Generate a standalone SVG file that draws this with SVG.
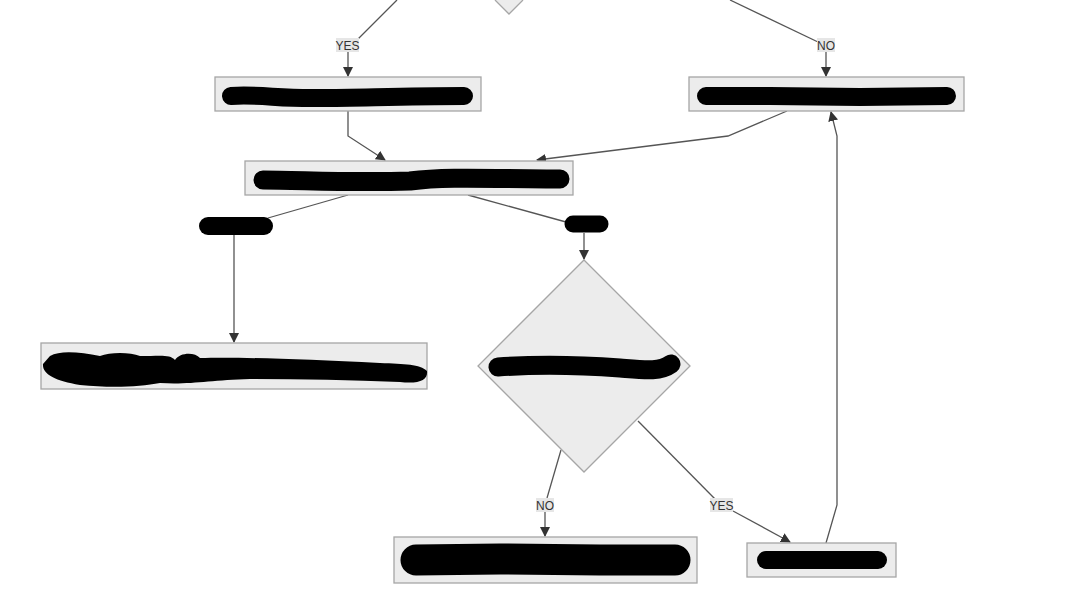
<svg xmlns="http://www.w3.org/2000/svg" width="1089" height="597" viewBox="0 0 1089 597">
<style>
.box{fill:#ececec;stroke:#a6a6a6;stroke-width:1.3}
.edge{fill:none;stroke:#555;stroke-width:1.3}
.ink{fill:none;stroke:#000;stroke-linecap:round;stroke-linejoin:round}
.blot{fill:#000}
.lblbg{fill:#e6e6e6}
.lbl{font-family:"Liberation Sans",Arial,sans-serif;font-size:12px;fill:#333;text-anchor:middle}
</style>
<defs>
<marker id="ah" markerWidth="10" markerHeight="10" refX="9" refY="5" orient="auto" markerUnits="userSpaceOnUse">
<path d="M0,0 L10,5 L0,10 z" fill="#333"/>
</marker>
</defs>
<rect width="1089" height="597" fill="#fff"/>

<g id="connectors">
<path class="edge" d="M397,0 L357,40"/>
<path class="edge" d="M348,52 L348,76" marker-end="url(#ah)"/>
<path class="edge" d="M730,0 L818,42"/>
<path class="edge" d="M826,52 L826,76" marker-end="url(#ah)"/>
<path class="edge" d="M348,111 L348,136 L385,160" marker-end="url(#ah)"/>
<path class="edge" d="M787,111 L728,136 L537,160" marker-end="url(#ah)"/>
<path class="edge" d="M348,195 L268,218"/>
<path class="edge" d="M234,235 L234,342" marker-end="url(#ah)"/>
<path class="edge" d="M468,195 L566,222"/>
<path class="edge" d="M584,233 L584,259" marker-end="url(#ah)"/>
<path class="edge" d="M561,450 L547,498"/>
<path class="edge" d="M545,511 L545,536" marker-end="url(#ah)"/>
<path class="edge" d="M638,421 L716,500"/>
<path class="edge" d="M733,511 L790,542" marker-end="url(#ah)"/>
<path class="edge" d="M826,543 L837,505 L837,136 L831,112" marker-end="url(#ah)"/>
</g>

<g id="edge-labels">
<rect class="lblbg" x="336" y="38" width="23" height="14"/>
<text class="lbl" x="347.5" y="49.5">YES</text>
<rect class="lblbg" x="817" y="38" width="18" height="14"/>
<text class="lbl" x="826" y="49.5">NO</text>
<rect class="lblbg" x="536" y="498" width="18" height="14"/>
<text class="lbl" x="545" y="509.5">NO</text>
<rect class="lblbg" x="710" y="498" width="23" height="14"/>
<text class="lbl" x="721.5" y="509.5">YES</text>
<path class="ink" stroke-width="18" d="M208,226 L264,226"/>
<path class="ink" stroke-width="17" d="M573,224 L600,224"/>
</g>

<g id="top-decision">
<path class="box" d="M495,0 L509,14 L523,0"/>
</g>

<g id="node-a">
<rect class="box" x="215" y="77" width="266" height="34"/>
<path class="ink" stroke-width="18" d="M231,96 C260,94 280,99 320,98 C360,98 400,96 464,96"/>
</g>

<g id="node-b">
<rect class="box" x="689" y="77" width="275" height="34"/>
<path class="ink" stroke-width="18" d="M706,96 L770,96 L860,97 L947,96"/>
</g>

<g id="node-c">
<rect class="box" x="245" y="161" width="328" height="34"/>
<path class="ink" stroke-width="19" d="M263,180 C300,180 350,183 410,181 C440,177 470,178 560,179"/>
</g>

<g id="node-d">
<rect class="box" x="41" y="343" width="386" height="46"/>
<path class="blot" d="M50,356 C60,350 80,352 100,356 C110,352 130,352 140,356 C160,356 170,354 175,360 C180,352 195,352 200,358 C240,357 300,359 380,363 C405,364 420,364 427,371 C428,380 420,384 400,382 C350,380 300,379 250,379 C210,380 190,385 160,383 C140,387 110,388 80,385 C55,381 42,374 43,364 Z"/>
</g>

<g id="node-decision">
<path class="box" d="M584,260 L690,366 L584,472 L478,366 Z"/>
<path class="ink" stroke-width="19" d="M498,367 C540,364 580,365 620,368 C645,370 660,372 671,364"/>
</g>

<g id="node-e">
<rect class="box" x="394" y="537" width="303" height="46"/>
<path class="ink" stroke-width="31" d="M416,560 L500,559 L600,560 L675,560"/>
</g>

<g id="node-f">
<rect class="box" x="747" y="543" width="149" height="34"/>
<path class="ink" stroke-width="18" d="M766,560 L878,560"/>
</g>
</svg>
